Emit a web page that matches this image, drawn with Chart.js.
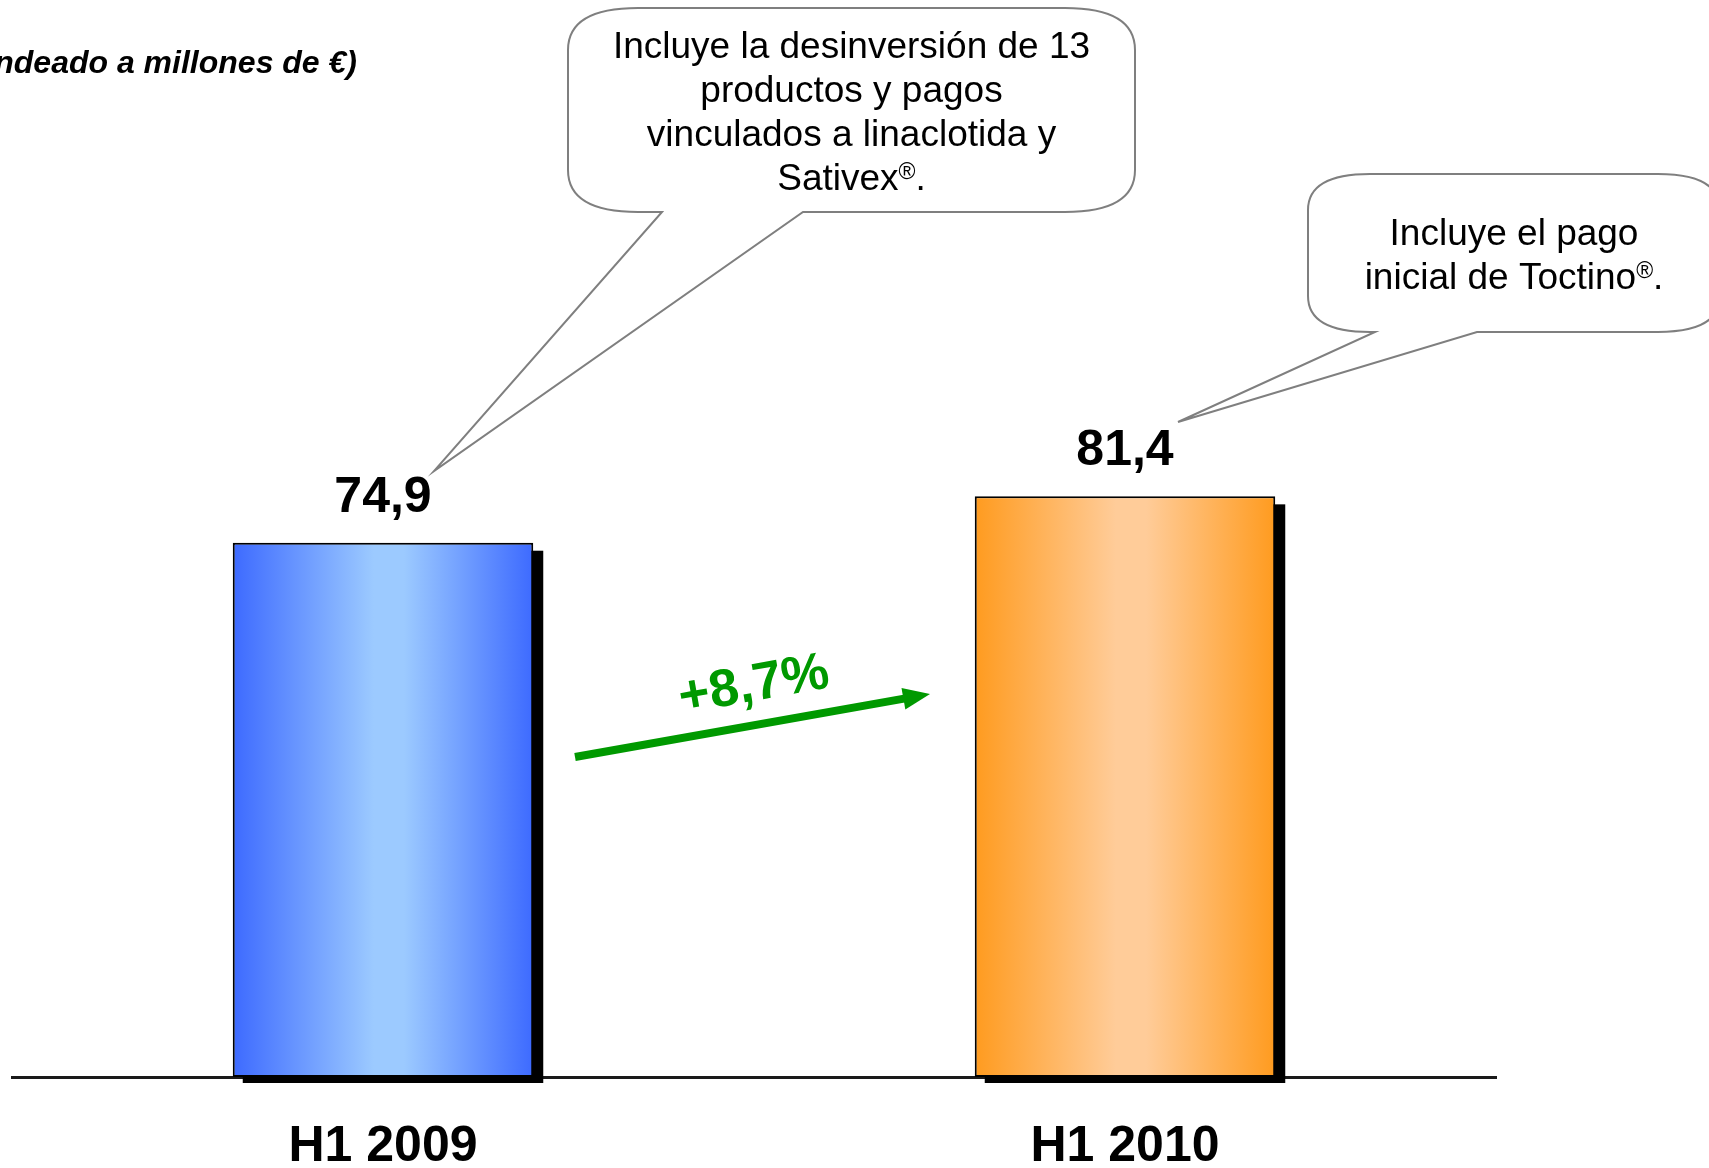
<!DOCTYPE html>
<html>
<head>
<meta charset="utf-8">
<script src="https://cdn.jsdelivr.net/npm/chart.js@4/dist/chart.umd.min.js"></script>
<style>
html, body { margin: 0; padding: 0; background: #fff; overflow: hidden; }
</style>
</head>
<body>
<canvas id="chart" width="1709" height="1168"></canvas>
<script>
// datos
const categories = ['H1 2009', 'H1 2010'];
const values = [74.9, 81.4];
const growthText = '+8,7%';
const subtitle = '(Redondeado a millones de €)';
const note2009 = ['Incluye la desinversión de 13', 'productos y pagos', 'vinculados a linaclotida y', 'Sativex®.'];
const note2010 = ['Incluye el pago', 'inicial de Toctino®.'];

const FONT = "'Liberation Sans', Arial, sans-serif";
const barDark = ['#3d6aff', '#ff9b1f'];
const barLight = ['#9ccaff', '#ffcc99'];
const BAR_FRACTION = 0.5 * 0.81;

function barGradient(context) {
    const chart = context.chart;
    const xs = chart.scales.x;
    const i = context.dataIndex;
    if (!xs || i === undefined) return barDark[0];
    const cx = xs.getPixelForValue(i);
    const half = (xs.width / categories.length) * BAR_FRACTION / 2;
    if (!isFinite(cx) || !isFinite(half) || half <= 0) return barDark[i];
    const g = chart.ctx.createLinearGradient(cx - half, 0, cx + half, 0);
    g.addColorStop(0, barDark[i]);
    g.addColorStop(0.47, barLight[i]);
    g.addColorStop(0.57, barLight[i]);
    g.addColorStop(1, barDark[i]);
    return g;
}

// texto centrado con ® en superíndice
function drawNoteLine(ctx, text, cx, y, size) {
    const parts = text.split('®');
    ctx.font = size + 'px ' + FONT;
    const small = Math.round(size * 0.62);
    let w = ctx.measureText(parts[0]).width;
    let regW = 0;
    if (parts.length > 1) {
        ctx.font = small + 'px ' + FONT;
        regW = ctx.measureText('®').width;
        ctx.font = size + 'px ' + FONT;
        w += regW + ctx.measureText(parts[1]).width;
    }
    let x = cx - w / 2;
    ctx.textAlign = 'left';
    ctx.textBaseline = 'alphabetic';
    ctx.fillText(parts[0], x, y);
    x += ctx.measureText(parts[0]).width;
    if (parts.length > 1) {
        ctx.font = small + 'px ' + FONT;
        ctx.fillText('®', x, y - size * 0.3);
        x += regW;
        ctx.font = size + 'px ' + FONT;
        ctx.fillText(parts[1], x, y);
    }
}

function bubble(ctx, b) {
    const x = b.x, y = b.y, w = b.w, h = b.h, rx = b.rx, ry = b.ry;
    ctx.beginPath();
    ctx.moveTo(x + rx, y);
    ctx.lineTo(x + w - rx, y);
    ctx.quadraticCurveTo(x + w, y, x + w, y + ry);
    ctx.lineTo(x + w, y + h - ry);
    ctx.quadraticCurveTo(x + w, y + h, x + w - rx, y + h);
    ctx.lineTo(b.tailR, y + h);
    ctx.lineTo(b.tip[0], b.tip[1]);
    ctx.lineTo(b.tailL, y + h);
    ctx.lineTo(x + rx, y + h);
    ctx.quadraticCurveTo(x, y + h, x, y + h - ry);
    ctx.lineTo(x, y + ry);
    ctx.quadraticCurveTo(x, y, x + rx, y);
    ctx.closePath();
    ctx.fillStyle = '#fff';
    ctx.fill();
    ctx.strokeStyle = '#7f7f7f';
    ctx.lineWidth = 2;
    ctx.stroke();
    ctx.fillStyle = '#000';
    b.lines.forEach((line, k) => {
        drawNoteLine(ctx, line, x + w / 2, b.firstBase + k * b.step, 37);
    });
}

const extras = {
    id: 'extras',
    beforeDatasetsDraw(chart) {
        // sombra negra de las barras
        const ctx = chart.ctx;
        const meta = chart.getDatasetMeta(0);
        ctx.save();
        ctx.fillStyle = '#000';
        meta.data.forEach(bar => {
            ctx.fillRect(bar.x - bar.width / 2 + 10, bar.y + 8, bar.width, bar.base - bar.y - 2);
        });
        ctx.restore();
    },
    afterDatasetsDraw(chart) {
        const ctx = chart.ctx;
        const meta = chart.getDatasetMeta(0);
        const xs = chart.scales.x;
        ctx.save();

        // valores sobre las barras
        ctx.fillStyle = '#000';
        ctx.font = 'bold 50px ' + FONT;
        ctx.textAlign = 'center';
        ctx.textBaseline = 'alphabetic';
        meta.data.forEach((bar, i) => {
            ctx.fillText(values[i].toFixed(1).replace('.', ','), bar.x, bar.y - 31);
        });

        // etiquetas de categoría
        categories.forEach((c, i) => {
            ctx.fillText(c, xs.getPixelForValue(i), 1161);
        });

        // subtítulo (recortado a la izquierda)
        ctx.font = 'italic bold 32px ' + FONT;
        ctx.textAlign = 'right';
        ctx.fillText(subtitle, 357, 73);

        // flecha verde
        const x0 = 575, y0 = 757, x1 = 930, y1 = 694;
        const ang = Math.atan2(y1 - y0, x1 - x0);
        ctx.strokeStyle = '#009900';
        ctx.fillStyle = '#009900';
        ctx.lineWidth = 8;
        ctx.beginPath();
        ctx.moveTo(x0, y0);
        ctx.lineTo(x1 - 22 * Math.cos(ang), y1 - 22 * Math.sin(ang));
        ctx.stroke();
        ctx.beginPath();
        ctx.moveTo(x1, y1);
        ctx.lineTo(x1 - 27 * Math.cos(ang) + 11 * Math.sin(ang), y1 - 27 * Math.sin(ang) - 11 * Math.cos(ang));
        ctx.lineTo(x1 - 27 * Math.cos(ang) - 11 * Math.sin(ang), y1 - 27 * Math.sin(ang) + 11 * Math.cos(ang));
        ctx.closePath();
        ctx.fill();

        ctx.save();
        ctx.translate(754, 686);
        ctx.rotate(ang);
        ctx.font = 'bold 53px ' + FONT;
        ctx.textAlign = 'center';
        ctx.textBaseline = 'middle';
        ctx.fillText(growthText, 0, 0);
        ctx.restore();

        // globos de nota
        bubble(ctx, { x: 568, y: 8, w: 567, h: 204, rx: 70, ry: 42,
            tailL: 662, tailR: 803, tip: [434, 471], lines: note2009, firstBase: 58, step: 44 });
        bubble(ctx, { x: 1308, y: 174, w: 412, h: 158, rx: 62, ry: 36,
            tailL: 1375, tailR: 1477, tip: [1178, 422], lines: note2010, firstBase: 245, step: 44 });

        ctx.restore();
    }
};

const chart = new Chart(document.getElementById('chart'), {
    type: 'bar',
    data: {
        labels: categories,
        datasets: [{
            data: values,
            backgroundColor: barGradient,
            borderColor: '#000',
            borderWidth: 2,
            borderSkipped: false,
            barPercentage: 0.81,
            categoryPercentage: 0.5
        }]
    },
    options: {
        responsive: false,
        animation: false,
        layout: { padding: { top: 7, left: 12, right: 213, bottom: 91 } },
        plugins: {
            legend: { display: false },
            tooltip: { enabled: false }
        },
        scales: {
            x: {
                grid: { display: false, drawTicks: false },
                border: { display: true, color: '#1a1a1a', width: 3 },
                ticks: { display: false }
            },
            y: {
                display: false,
                min: 0,
                max: 150
            }
        }
    },
    plugins: [extras]
});
</script>
</body>
</html>
